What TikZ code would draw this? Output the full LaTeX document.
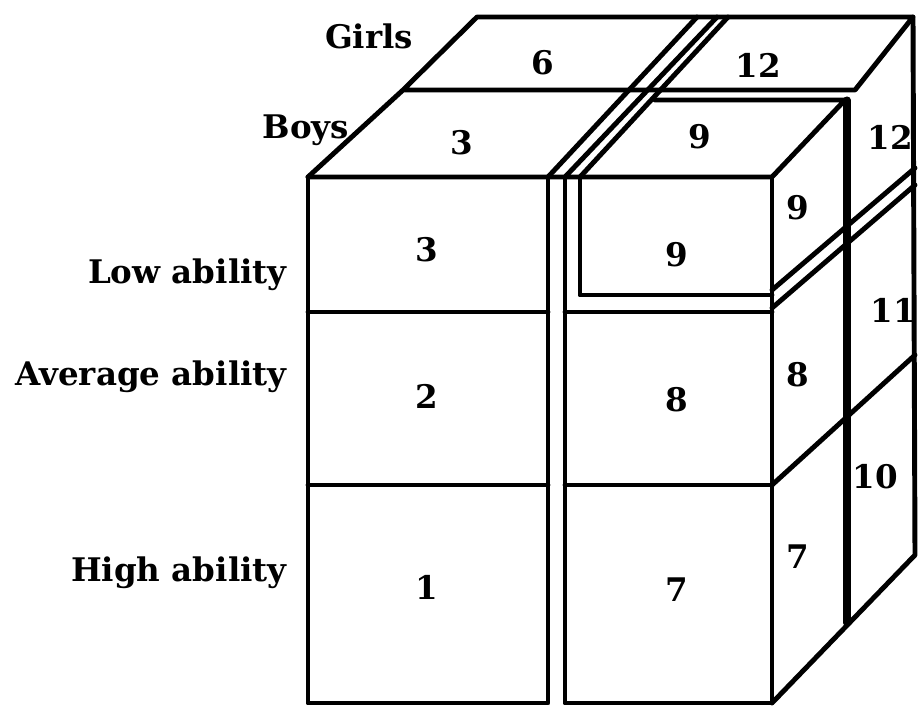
\documentclass[tikz,border=0pt]{standalone}
\usepackage{fontspec}
\setmainfont{DejaVu Serif}

\begin{document}
\begin{tikzpicture}[x=0.2mm,y=-0.2mm,
  wall/.style={line width=2.8pt,line cap=round,line join=round},
  heavy/.style={line width=4pt,line cap=round},
  num/.style={font=\fontsize{18.5}{20}\selectfont\bfseries,inner sep=0pt},
  lab/.style={font=\fontsize{18.5}{20}\selectfont\bfseries,inner sep=0pt},
]
\useasboundingbox (0,0) rectangle (920,709);

% === Front face, left block ===
\draw[wall] (308,177) rectangle (548,703);
\draw[wall] (308,312) -- (548,312);
\draw[wall] (308,485) -- (548,485);

% === Front face, right block ===
\draw[wall] (565,177) -- (565,703) -- (772,703) -- (772,177);
\draw[wall] (565,312) -- (772,312);
\draw[wall] (565,485) -- (772,485);
\draw[wall] (580,177) -- (580,295) -- (772,295); % cell 9 picked out

% === Top face ===
\draw[wall] (308,177) -- (772,177) -- (845,100) -- (655,100);
\draw[wall] (308,177) -- (403,90) -- (477,17) -- (913,17) -- (855,90) -- (403,90);
\draw[wall] (548,177) -- (697,17);
\draw[wall] (565,177) -- (717,17);
\draw[wall] (580,177) -- (728,17);

% === Right face ===
\draw[heavy] (847,100) -- (847,623);
\draw[wall] (913,17) -- (915,555) -- (772,703);
\draw[wall] (772,290) -- (915,168);
\draw[wall] (772,308) -- (915,185);
\draw[wall] (772,485) -- (915,355);

% === Cell numbers ===
\node[num] (fl3) at (427,250) {3};
\node[num] (fl2) at (427,396) {2};
\node[num] (fl1) at (427,587) {1};
\node[num] (fr9) at (677,255) {9};
\node[num] (fr8) at (677,400) {8};
\node[num] (fr7) at (677,590) {7};
\node[num] (tb3) at (462,143) {3};
\node[num] (tb9) at (700,137) {9};
\node[num] (tg6) at (543,63) {6};
\node[num] (tg12) at (758,65) {12};
\node[num] (sb9) at (798,208) {9};
\node[num] (sb8) at (798,375) {8};
\node[num] (sb7) at (798,557) {7};
\node[num] (sg12) at (890,137) {12};
\node[num] (sg11) at (893,310) {11};
\node[num] (sg10) at (875,477) {10};

% === Labels ===
\node[lab] (girls) at (369,36) {Girls};
\node[lab] (boys) at (306,130) {Boys};
\node[lab,anchor=east] (low) at (287,275) {Low ability};
\node[lab,anchor=east] (avg) at (287,377) {Average ability};
\node[lab,anchor=east] (high) at (287,573) {High ability};

\end{tikzpicture}
\end{document}
